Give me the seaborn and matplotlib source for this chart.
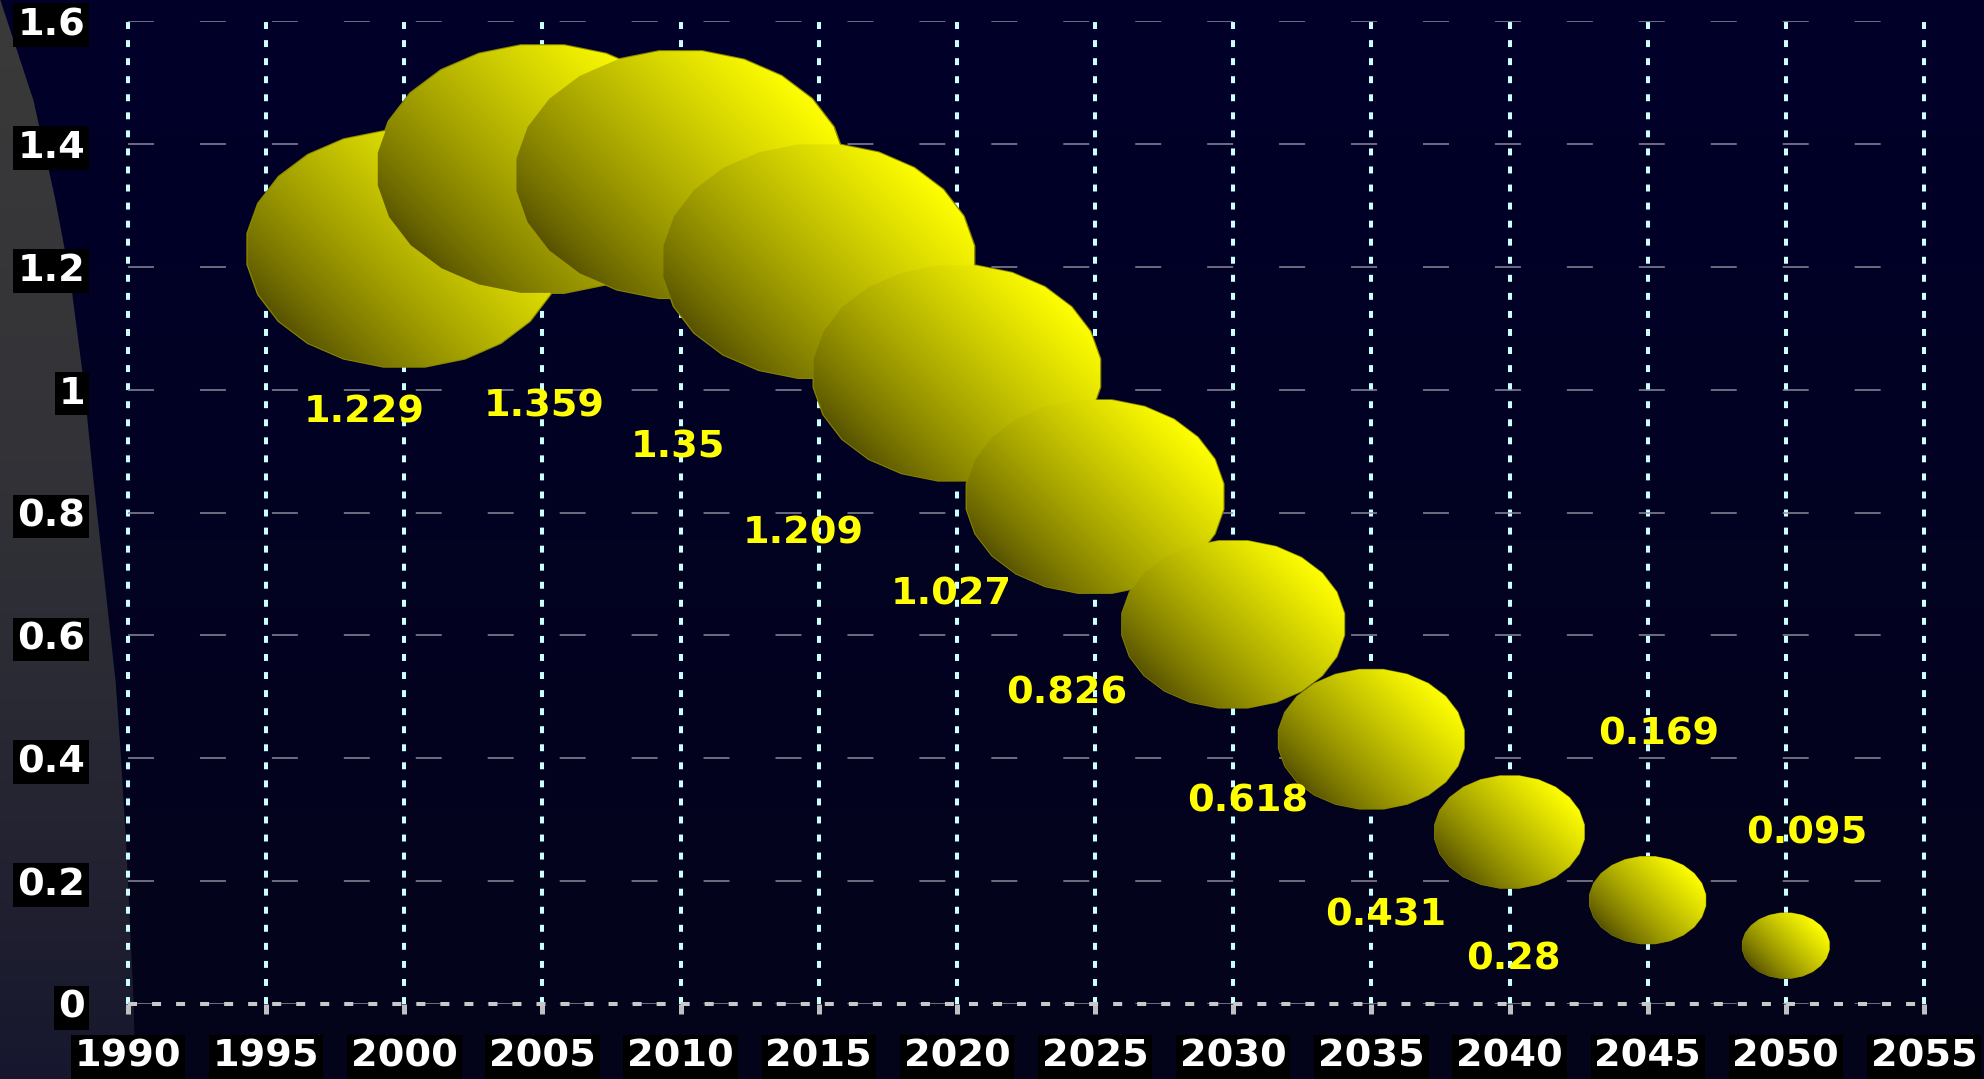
import numpy as np
import pandas as pd
import matplotlib
matplotlib.use("Agg")
import matplotlib.pyplot as plt
from matplotlib.path import Path
from matplotlib.markers import MarkerStyle
from matplotlib.patches import Polygon
import seaborn as sns

# ---- data -------------------------------------------------------------
years = [2000, 2005, 2010, 2015, 2020, 2025, 2030, 2035, 2040, 2045, 2050]
values = [1.229, 1.359, 1.35, 1.209, 1.027, 0.826, 0.618, 0.431, 0.28, 0.169, 0.095]
x_ticks = list(range(1990, 2056, 5))
y_ticks = [0, 0.2, 0.4, 0.6, 0.8, 1.0, 1.2, 1.4, 1.6]

# offset of each value label from its bubble centre (years, value units)
label_dx = [-1.46, 0.06, -0.10, -0.57, -0.21, -1.02, 0.54, 0.53, 0.13, 0.41, 0.77]
label_dy = [-0.266, -0.386, -0.445, -0.443, -0.361, -0.32, -0.289, -0.287, -0.208, 0.269, 0.182]

# ---- style --------------------------------------------------------------
sns.set_theme(style="dark")
plt.rcParams["font.family"] = ["DejaVu Sans"]
plt.rcParams["font.weight"] = "bold"
plt.rcParams["lines.scale_dashes"] = False
FS = 27.5

W, H, DPI = 1984, 1079, 100
fig = plt.figure(figsize=(W / DPI, H / DPI), dpi=DPI)
fig.patch.set_facecolor("#00001e")

# ---- backdrop: navy field with a grey curved band on the left ------------
yy, xx = np.mgrid[0:H, 0:W].astype(float)
fy = yy / (H - 1)
navy_top = np.array([0, 0, 42]) / 255
navy_bot = np.array([4, 4, 26]) / 255
navy = navy_top * (1 - fy[..., None]) + navy_bot * fy[..., None]

edge_y = [0, 100, 200, 280, 380, 480, 580, 680, 750, 850, 1000, 1079]
edge_x = [0, 33, 55, 70, 83, 93, 104, 115, 120, 126, 133, 135]
xb = np.interp(yy[:, 0], edge_y, edge_x)
cover = np.clip(xb[:, None] - xx + 0.5, 0, 1)[..., None]

grey_stops_y = [0, 400, 700, 1000, 1079]
grey_stops = np.array([[58, 58, 58], [52, 52, 56], [42, 42, 52], [27, 27, 47], [22, 22, 46]]) / 255
grey = np.stack([np.interp(yy[:, 0], grey_stops_y, grey_stops[:, c]) for c in range(3)], axis=-1)
grey = np.broadcast_to(grey[:, None, :], (H, W, 3))
backdrop = navy * (1 - cover) + grey * cover

bg_ax = fig.add_axes([0, 0, 1, 1], zorder=-10)
bg_ax.imshow(backdrop, aspect="auto", interpolation="bilinear")
bg_ax.set_axis_off()

# ---- main axes ----------------------------------------------------------
ax = fig.add_axes([128 / W, (H - 1004) / H, 1796 / W, 983 / H], zorder=1)
ax.set_facecolor("none")
for s in ax.spines.values():
    s.set_visible(False)

df = pd.DataFrame({"year": years, "value": values})
vmax = max(values)
area_per_unit = 42100.0  # marker area (pt^2) per unit of value
ASPECT = 1.33            # bubbles are wider than tall

# faceted bubble outline (24-gon with a flat top)
n_sides = 24
theta = np.pi / 2 + np.pi / n_sides + np.arange(n_sides) * 2 * np.pi / n_sides
unit_x, unit_y = np.cos(theta), np.sin(theta)
ell_verts = np.column_stack([0.5 * unit_x, 0.5 / ASPECT * unit_y])
ell_verts = np.vstack([ell_verts, ell_verts[:1]])
ell_marker = MarkerStyle(Path(ell_verts, closed=True))

sns.scatterplot(
    data=df, x="year", y="value", size="value",
    sizes=(0, area_per_unit * vmax), size_norm=(0, vmax),
    marker=ell_marker, color="#8a8600", linewidth=0,
    legend=False, ax=ax, zorder=3,
)

ax.set_xlim(1990, 2055)
ax.set_ylim(0, 1.6)

# ---- shaded bubbles on top of the scatter markers -----------------------
marker_sizes = ax.collections[0].get_sizes()
if len(marker_sizes) == 1:
    marker_sizes = np.repeat(marker_sizes, len(values))
px_x = ax.transData.transform((1, 0))[0] - ax.transData.transform((0, 0))[0]
px_y = ax.transData.transform((0, 1))[1] - ax.transData.transform((0, 0))[1]

dark = np.array([85, 80, 0]) / 255
bright = np.array([255, 255, 0]) / 255
n = 256
g = np.linspace(-1, 1, n)
ex, ey = np.meshgrid(g, g)

for i, (yr, v, s) in enumerate(zip(years, values, marker_sizes)):
    w_px = np.sqrt(s) * DPI / 72.0
    h_px = w_px / ASPECT
    wd, hd = w_px / px_x, h_px / px_y
    a, b = w_px / 2, h_px / 2
    u = (ex * a + ey * b) / np.sqrt(a * a + b * b)
    t = np.clip((u + 1) / 2, 0, 1) ** 0.8
    rgb = dark + (bright - dark) * t[..., None]
    im = ax.imshow(rgb, extent=(yr - wd / 2, yr + wd / 2, v - hd / 2, v + hd / 2),
                   origin="lower", aspect="auto", interpolation="bilinear",
                   zorder=4 + i * 0.01)
    outline = np.column_stack([yr + wd / 2 * unit_x, v + hd / 2 * unit_y])
    clip = Polygon(outline, closed=True, transform=ax.transData)
    im.set_clip_path(clip)

ax.set_xlim(1990, 2055)
ax.set_ylim(0, 1.6)
ax.set_aspect("auto")

# ---- value labels -------------------------------------------------------
for yr, v, dx, dy in zip(years, values, label_dx, label_dy):
    ax.text(yr + dx, v + dy, f"{v:g}", color="#ffff00", fontsize=FS,
            fontweight="bold", ha="center", va="center", zorder=10)

# ---- grid, baseline, ticks ----------------------------------------------
ax.set_axisbelow(True)
ax.set_xticks(x_ticks)
ax.set_yticks(y_ticks)
ax.set_yticklabels([f"{t:g}" for t in y_ticks])
ax.grid(axis="x", color="#ccffff", linewidth=2.9, linestyle=(0, (5.0, 8.0)))
ax.grid(axis="y", color="#8a8a9a", linewidth=1.1, linestyle=(0, (18.7, 33.1)))
for gl in ax.get_xgridlines():
    gl.set_clip_on(False)
ax.axhline(0, color="#c8c8c8", linewidth=2.9, linestyle=(0, (6.5, 10.8)),
           zorder=2.5, clip_on=False)

ax.tick_params(axis="x", length=7, width=3.6, color="#c0c0c0", pad=18,
               labelsize=FS, labelcolor="white", bottom=True)
ax.tick_params(axis="y", length=0, pad=31, labelsize=FS, labelcolor="white", left=True)
ax.set_xlabel("")
ax.set_ylabel("")
for lbl in ax.get_xticklabels() + ax.get_yticklabels():
    lbl.set_fontweight("bold")
    lbl.set_bbox(dict(boxstyle="square,pad=0.1", fc="black", ec="none"))

fig.savefig("out.png", dpi=DPI)
